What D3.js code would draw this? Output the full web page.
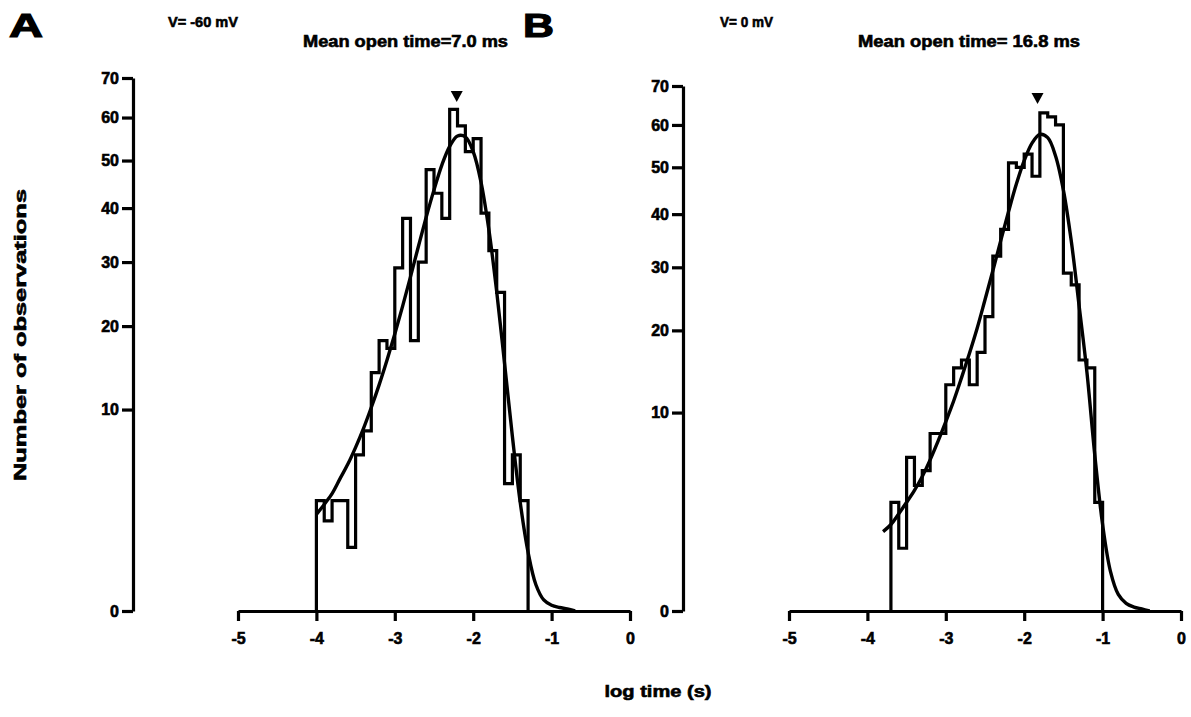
<!DOCTYPE html>
<html>
<head>
<meta charset="utf-8">
<script src="https://cdn.jsdelivr.net/npm/d3@7/dist/d3.min.js"></script>
<style>
  html, body { margin: 0; padding: 0; background: #fff; }
  svg { display: block; }
  text { font-family: "Liberation Sans", Arial, Helvetica, sans-serif; font-weight: 700; fill: #000; stroke: #000; stroke-width: 0.6px; }
</style>
</head>
<body>
<svg id="chart" width="1191" height="717"></svg>
<script>
// ---------- DATA ----------
const yTicks = [0, 10, 20, 30, 40, 50, 60, 70];
const xTicks = [-5, -4, -3, -2, -1, 0];
const xTickLabels = ["-5", "-4", "-3", "-2", "-1", "0"];

// Panel A (V = -60 mV): histogram bin edges (log s) and counts
const edgesA = [-4.0, -3.9, -3.8, -3.7, -3.6, -3.5, -3.4, -3.3, -3.2, -3.1, -3.0,
                -2.9, -2.8, -2.7, -2.6, -2.5, -2.4, -2.3, -2.2, -2.1, -2.0,
                -1.9, -1.8, -1.7, -1.6, -1.5, -1.4, -1.3];
const countsA = [3, 2, 3, 3, 1, 6, 8, 14, 18, 17, 29,
                 38, 18, 30, 48, 43, 38, 62, 58, 52, 55,
                 39, 32, 25, 4, 6, 3];
// Panel A fitted curve (log s, count)
const fitXA = [-4.0, -3.9, -3.8, -3.7, -3.6, -3.5, -3.4, -3.3, -3.2, -3.1, -3.0,
               -2.9, -2.8, -2.7, -2.6, -2.5, -2.4, -2.3, -2.2, -2.1, -2.0,
               -1.9, -1.8, -1.7, -1.6, -1.5, -1.4, -1.3, -1.2, -1.1, -1.0, -0.9, -0.8, -0.7];
const fitYA = [2.3, 2.8, 3.4, 4.3, 5.3, 6.6, 8.2, 10.2, 12.6, 15.5, 18.9,
               22.9, 27.5, 32.7, 38.2, 43.7, 49.0, 53.2, 55.6, 55.4, 52.0,
               45.3, 35.8, 25.1, 15.1, 7.5, 2.9, 0.85, 0.17, 0.03, 0.008, 0.003, 0.001, 0];
const markerA = -2.21;

// Panel B (V = 0 mV)
const edgesB = [-3.7, -3.6, -3.5, -3.4, -3.3, -3.2, -3.1, -3.0, -2.9, -2.8, -2.7,
                -2.6, -2.5, -2.4, -2.3, -2.2, -2.1, -2.0, -1.9, -1.8, -1.7,
                -1.6, -1.5, -1.4, -1.3, -1.2, -1.1, -1.0];
const countsB = [3, 1, 6, 4, 5, 8, 8, 13, 15, 16, 13,
                 17, 22, 32, 37, 51, 50, 53, 48, 63, 62,
                 60, 29, 27, 16, 15, 3];
const fitXB = [-3.8, -3.7, -3.6, -3.5, -3.4, -3.3, -3.2, -3.1, -3.0, -2.9, -2.8,
               -2.7, -2.6, -2.5, -2.4, -2.3, -2.2, -2.1, -2.0, -1.9, -1.8,
               -1.7, -1.6, -1.5, -1.4, -1.3, -1.2, -1.1, -1.0, -0.9, -0.8, -0.7, -0.6, -0.5, -0.4];
const fitYB = [1.6, 1.9, 2.4, 3.0, 3.7, 4.6, 5.8, 7.3, 9.1, 11.2, 13.8,
               16.8, 20.3, 24.6, 29.4, 34.8, 40.5, 46.3, 51.5, 55.6, 57.7,
               56.9, 52.6, 45.0, 34.8, 23.7, 14.5, 6.2, 1.9, 0.4, 0.07, 0.015, 0.004, 0.001, 0];
const markerB = -1.83;

const voltLabels = ["V= -60 mV", "V= 0 mV"];
const meanLabels = ["Mean open time=7.0 ms", "Mean open time= 16.8 ms"];
const panelLetters = ["A", "B"];

// ---------- DRAW ----------
const svg = d3.select("#chart");

const panels = [
  { edges: edgesA, counts: countsA, fx: fitXA, fy: fitYA, marker: markerA,
    yAxisX: 133, xr: [238, 630], yr: [611, 78],
    letter: { x: 9, w: 34 }, volt: { x: 168, w: 70 }, mean: { x: 303, w: 205 } },
  { edges: edgesB, counts: countsB, fx: fitXB, fy: fitYB, marker: markerB,
    yAxisX: 683, xr: [789, 1181], yr: [611, 86],
    letter: { x: 523, w: 31 }, volt: { x: 720, w: 53 }, mean: { x: 858, w: 222 } }
];

panels.forEach((p, i) => {
  const x = d3.scaleLinear().domain([-5, 0]).range(p.xr);
  const y = d3.scaleSqrt().domain([0, 70]).range(p.yr);
  const g = svg.append("g");

  // y axis
  const yAx = g.append("g")
    .attr("transform", `translate(${p.yAxisX},0)`)
    .call(d3.axisLeft(y).tickValues(yTicks).tickSize(11).tickSizeOuter(0).tickPadding(3));
  yAx.select(".domain").attr("stroke", "#000").attr("stroke-width", 3.2);
  yAx.selectAll(".tick line").attr("stroke", "#000").attr("stroke-width", 3.2);
  yAx.selectAll(".tick text").style("font-size", "16px").style("font-family", "Liberation Sans, Arial, sans-serif").style("font-weight", 700);

  // x axis
  const xAx = g.append("g")
    .attr("transform", `translate(0,${p.yr[0]})`)
    .call(d3.axisBottom(x).tickValues(xTicks).tickFormat((d, k) => xTickLabels[k])
      .tickSize(10).tickSizeOuter(0).tickPadding(12));
  xAx.select(".domain").attr("stroke", "#000").attr("stroke-width", 3.2);
  xAx.selectAll(".tick line").attr("stroke", "#000").attr("stroke-width", 3.2);
  xAx.selectAll(".tick text").style("font-size", "16px").style("font-family", "Liberation Sans, Arial, sans-serif").style("font-weight", 700);

  // histogram step outline
  const pts = [[p.edges[0], 0]];
  p.counts.forEach((c, k) => {
    pts.push([p.edges[k], c]);
    pts.push([p.edges[k + 1], c]);
  });
  pts.push([p.edges[p.edges.length - 1], 0]);
  g.append("path")
    .attr("d", d3.line().x(d => x(d[0])).y(d => y(d[1]))(pts))
    .attr("fill", "none").attr("stroke", "#000").attr("stroke-width", 3.2)
    .attr("stroke-linejoin", "miter");

  // fitted curve
  const fit = p.fx.map((v, k) => [v, p.fy[k]]);
  g.append("path")
    .attr("d", d3.line().x(d => x(d[0])).y(d => y(d[1])).curve(d3.curveCatmullRom)(fit))
    .attr("fill", "none").attr("stroke", "#000").attr("stroke-width", 3.4);

  // marker triangle
  const mx = x(p.marker), my = y(70) + (i === 0 ? 13 : 7);
  g.append("path")
    .attr("d", `M${mx - 6},${my} L${mx + 6},${my} L${mx},${my + 11} Z`)
    .attr("fill", "#000");

  // texts
  g.append("text").attr("x", p.letter.x).attr("y", 37)
    .attr("textLength", p.letter.w).attr("lengthAdjust", "spacingAndGlyphs")
    .style("font-size", "34px").style("stroke-width", "1.2px").text(panelLetters[i]);
  g.append("text").attr("x", p.volt.x).attr("y", 27)
    .attr("textLength", p.volt.w).attr("lengthAdjust", "spacingAndGlyphs")
    .style("font-size", "15px").text(voltLabels[i]);
  g.append("text").attr("x", p.mean.x).attr("y", 47)
    .attr("textLength", p.mean.w).attr("lengthAdjust", "spacingAndGlyphs")
    .style("font-size", "16px").text(meanLabels[i]);
});

// shared axis titles
svg.append("text")
  .attr("transform", "translate(26,335) rotate(-90)")
  .attr("text-anchor", "middle")
  .attr("textLength", 292).attr("lengthAdjust", "spacingAndGlyphs")
  .style("font-size", "16px").text("Number of observations");
svg.append("text")
  .attr("x", 658).attr("y", 697)
  .attr("text-anchor", "middle")
  .attr("textLength", 107).attr("lengthAdjust", "spacingAndGlyphs")
  .style("font-size", "16px").text("log time (s)");
</script>
</body>
</html>
